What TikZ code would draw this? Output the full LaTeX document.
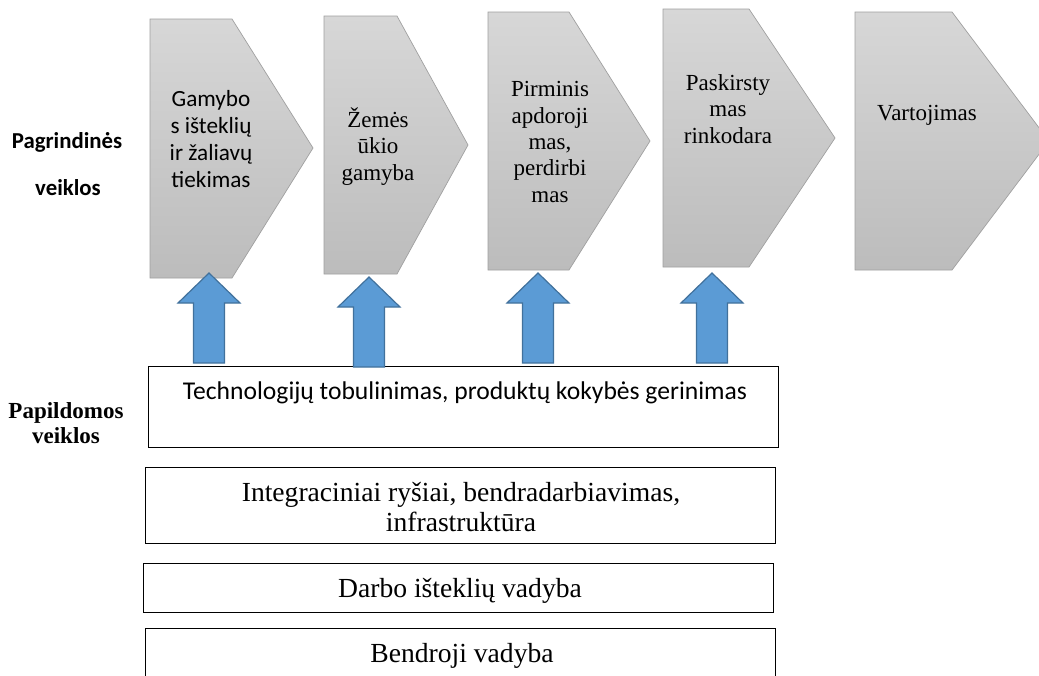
\documentclass[tikz,border=0pt]{standalone}
\usepackage{fontspec}
\setmainfont{Liberation Serif}
\newfontfamily\calibrifont{Carlito}
\definecolor{chevtop}{RGB}{215,215,215}
\definecolor{chevbot}{RGB}{188,188,188}
\definecolor{chevline}{RGB}{160,160,160}
\definecolor{arrowfill}{RGB}{91,155,213}
\definecolor{arrowline}{RGB}{65,113,156}
\begin{document}
\begin{tikzpicture}[x=1pt,y=-1pt,
  chevron/.style={top color=chevtop,bottom color=chevbot,draw=chevline,line width=0.7pt},
  upblock/.style={fill=arrowfill,draw=arrowline,line width=1.2pt,line join=miter},
  band/.style={draw=black,line width=0.9pt,fill=white,inner sep=0pt},
  lbl/.style={inner sep=0pt,anchor=base,align=center},
  sanstext/.style={lbl,font=\calibrifont\fontsize{23.2}{27}\selectfont},
  seriftext/.style={lbl,font=\fontsize{23}{26.3}\selectfont},
  bandtext/.style={lbl,font=\fontsize{27.6}{30}\selectfont},
  sidesans/.style={lbl,font=\calibrifont\bfseries\fontsize{22.8}{25}\selectfont},
  sideserif/.style={lbl,font=\bfseries\fontsize{23}{25}\selectfont},
  uparrow/.pic={\draw[upblock] (-15.5,90) -- (-15.5,30) -- (-31,30) -- (0,0)
      -- (31,30) -- (15.5,30) -- (15.5,90) -- cycle;}
]
\clip (0,0) rectangle (1039,675);
\fill[white] (0,0) rectangle (1039,675);

% main activity chain
\path[chevron] (150,19) -- (232,19) -- (313,148) -- (232,278) -- (150,278) -- cycle;
\path[chevron] (324,16) -- (397,16) -- (468,145) -- (397,274) -- (324,274) -- cycle;
\path[chevron] (488,12) -- (569,12) -- (650,141) -- (569,270) -- (488,270) -- cycle;
\path[chevron] (663,9) -- (749,9) -- (835,138) -- (749,267) -- (663,267) -- cycle;
\path[chevron] (855,12) -- (952,12) -- (1049,141) -- (952,270) -- (855,270) -- cycle;

% multi-line labels sit on the baseline of their last line
\node[sanstext] (c1) at (211,187) {Gamybo\\s išteklių\\ir žaliavų\\tiekimas};
\node[seriftext] (c2) at (378,180) {Žemės\\ūkio\\gamyba};
\node[seriftext] (c3) at (550,202) {Pirminis\\apdoroji\\mas,\\perdirbi\\mas};
\node[seriftext] (c4) at (728,143) {Paskirsty\\mas\\rinkodara};
\node[seriftext] (c5) at (927,120) {Vartojimas};

% side labels
\node[sidesans] (main1) at (67,148) {Pagrindinės};
\node[sidesans] (main2) at (68,195) {veiklos};
\node[sideserif] (sup) at (66,443) {Papildomos\\veiklos};

% supporting activities
\node[band,minimum width=630,minimum height=81] (tech) at (463,406.5) {};
\node[band,minimum width=630,minimum height=76] (integr) at (460,505) {};
\node[band,minimum width=630,minimum height=49] (work) at (458,587.5) {};
\node[band,minimum width=630,minimum height=80] (mgmt) at (460,668) {};

\node[lbl,font=\calibrifont\fontsize{25.6}{27}\selectfont] (techtxt) at (465,399)
  {Technologijų tobulinimas, produktų kokybės gerinimas};
\node[bandtext] (integrtxt) at (461,531) {Integraciniai ryšiai, bendradarbiavimas,\\infrastruktūra};
\node[bandtext] (worktxt) at (460,597) {Darbo išteklių vadyba};
\node[bandtext] (mgmttxt) at (462,662) {Bendroji vadyba};

% support arrows
\pic at (209,273) {uparrow};
\pic at (369,277) {uparrow};
\pic at (538,273) {uparrow};
\pic at (712,273) {uparrow};
\end{tikzpicture}
\end{document}
